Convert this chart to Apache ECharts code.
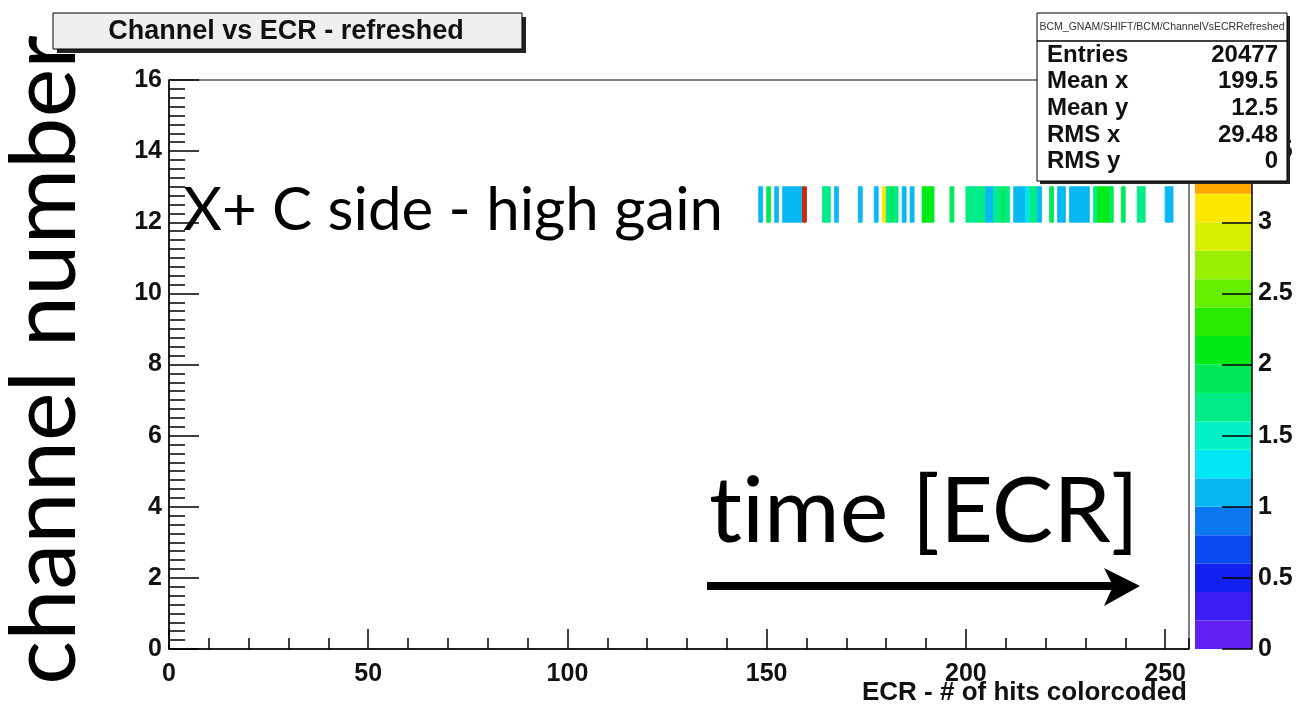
<!DOCTYPE html>
<html>
<head>
<meta charset="utf-8">
<script src="https://cdn.jsdelivr.net/npm/echarts@6/dist/echarts.min.js"></script>
<style>
  html, body { margin: 0; padding: 0; background: #fff; }
  #chart { width: 1298px; height: 705px; }
</style>
</head>
<body>
<div id="chart"></div>
<script>
// channel 12 = X+ C side, high gain. Only filled ECR bins are listed.
const channel = 12;
const ecrBins = [
  148, 150, 152, 154, 155, 156, 157, 158, 159,
  164, 165, 167, 173, 177, 179, 180, 181, 182,
  184, 186, 189, 190, 191, 196,
  200, 201, 202, 203, 204, 205, 206, 207, 208, 209, 210,
  212, 213, 214, 215, 216, 217, 218, 221, 223, 224,
  226, 227, 228, 229, 230, 232, 233, 234, 235, 236,
  239, 243, 244, 250, 251
];
// # of hits (colour coded)
const hitValues = [
  1.10, 1.90, 1.00, 1.05, 1.15, 1.15, 1.10, 1.15, 3.95,
  1.75, 1.70, 1.00, 1.10, 1.00, 3.10, 1.70, 1.85, 1.75,
  1.00, 1.05, 2.10, 2.15, 2.10, 1.90,
  1.70, 1.65, 1.75, 1.70, 1.75, 1.15, 1.10, 1.70, 1.75, 1.85, 1.70,
  1.10, 1.15, 1.10, 1.25, 1.65, 1.75, 1.00, 1.90, 1.10, 1.05,
  1.10, 1.15, 1.10, 1.15, 1.10, 1.70, 2.10, 2.15, 2.10, 1.85,
  1.90, 1.75, 1.70, 1.10, 1.05
];

// palette contours (20 levels) and colours
const zLevels = [0, 0.2, 0.4, 0.6, 0.8, 1.0, 1.2, 1.4, 1.6, 1.8, 2.0,
                 2.2, 2.4, 2.6, 2.8, 3.0, 3.2, 3.4, 3.6, 3.8, 4.0];
const paletteColors = [
  '#6420f4', '#3a1ef4', '#1420f0', '#0a48f0', '#0a78f0',
  '#08b8f2', '#00e6f4', '#00f0c8', '#00ec88', '#00ea58',
  '#00ea18', '#28ec00', '#66ee00', '#98f000', '#d8f000',
  '#fce800', '#ffa800', '#ff7400', '#ff3000', '#c8280c'
];

const statsLabels = ['Entries', 'Mean x', 'Mean y', 'RMS x', 'RMS y'];
const statsValues = ['20477', '199.5', '12.5', '29.48', '0'];

const rootFont = '"Liberation Sans", Arial, sans-serif';
const slideFont = 'Lato, "Open Sans", sans-serif';

const chart = echarts.init(document.getElementById('chart'));

//每个bin画成一个矩形
const renderBin = (params, api) => {
  const x0 = api.value(0), y0 = api.value(1);
  const p0 = api.coord([x0, y0 + 1]);
  const p1 = api.coord([x0 + 1, y0]);
  const color = api.visual('color');
  return {
    type: 'rect',
    shape: { x: p0[0], y: p0[1], width: p1[0] - p0[0], height: p1[1] - p0[1] },
    style: { fill: color, stroke: color, lineWidth: 0.8 }
  };
};
const renderLevel = (params, api) => {
  const p0 = api.coord([0, api.value(1)]);
  const p1 = api.coord([1, api.value(0)]);
  return {
    type: 'rect',
    shape: { x: p0[0], y: p0[1], width: p1[0] - p0[0], height: p1[1] - p0[1] },
    style: { fill: api.visual('color') }
  };
};

const labelStyle = { fontFamily: rootFont, fontWeight: 'bold', fontSize: 25, color: '#111' };
const blackLine = { color: '#000', width: 1.5 };

const statsRows = [];
statsLabels.forEach((lab, i) => {
  const y = 55 + i * 26.7;
  statsRows.push({ type: 'text', z: 101, x: 1047, y: y,
    style: { text: lab, font: 'bold 24px ' + rootFont, fill: '#111', textAlign: 'left', textVerticalAlign: 'middle' } });
  statsRows.push({ type: 'text', z: 101, x: 1278, y: y,
    style: { text: statsValues[i], font: 'bold 24px ' + rootFont, fill: '#111', textAlign: 'right', textVerticalAlign: 'middle' } });
});

const option = {
  animation: false,
  backgroundColor: '#fff',
  grid: [
    { left: 169, top: 80, width: 1020, height: 569, show: true, borderColor: '#000', borderWidth: 1,
      containLabel: false, outerBoundsMode: 'none' },
    { left: 1195, top: 80, width: 57, height: 569, containLabel: false, outerBoundsMode: 'none' }
  ],
  xAxis: [
    {
      type: 'value', gridIndex: 0, min: 0, max: 256, interval: 50, position: 'bottom', z: 5,
      axisLine: { show: true, onZero: false, lineStyle: blackLine },
      axisTick: { inside: true, length: 20, lineStyle: blackLine },
      axisLabel: Object.assign({ margin: 13, showMaxLabel: false }, labelStyle),
      splitLine: { show: false }
    },
    {
      // minor ticks every 10
      type: 'value', gridIndex: 0, min: 0, max: 256, interval: 10, position: 'bottom', z: 5,
      axisLine: { show: false, onZero: false },
      axisTick: { inside: true, length: 11, lineStyle: blackLine },
      axisLabel: { show: false },
      splitLine: { show: false }
    },
    { type: 'value', gridIndex: 1, min: 0, max: 1, show: false }
  ],
  yAxis: [
    {
      type: 'value', gridIndex: 0, min: 0, max: 16, interval: 2, z: 5,
      axisLine: { show: true, onZero: false, lineStyle: blackLine },
      axisTick: { inside: true, length: 30, lineStyle: blackLine },
      minorTick: { show: true, splitNumber: 8, length: 16, lineStyle: { color: '#000', width: 1.5 } },
      axisLabel: Object.assign({ margin: 7 }, labelStyle),
      splitLine: { show: false }
    },
    {
      type: 'value', gridIndex: 1, position: 'right', min: 0, max: 4, interval: 0.5, z: 5,
      axisLine: { show: true, onZero: false, lineStyle: blackLine },
      axisTick: { inside: true, length: 30, lineStyle: blackLine },
      axisLabel: Object.assign({ margin: 6 }, labelStyle),
      splitLine: { show: false }
    }
  ],
  visualMap: {
    type: 'piecewise', show: false, dimension: 2, seriesIndex: [0, 1],
    pieces: paletteColors.map((c, i) => ({ gte: zLevels[i], lt: zLevels[i + 1], color: c }))
  },
  series: [
    {
      type: 'custom', name: 'hits', xAxisIndex: 0, yAxisIndex: 0, clip: true, z: 1,
      encode: { x: 0, y: 1 },
      renderItem: renderBin,
      data: ecrBins.map((b, i) => [b, channel, hitValues[i]])
    },
    {
      type: 'custom', name: 'palette', xAxisIndex: 2, yAxisIndex: 1, z: 1,
      encode: { y: [0, 1] },
      renderItem: renderLevel,
      data: paletteColors.map((c, i) => [zLevels[i], zLevels[i + 1], (zLevels[i] + zLevels[i + 1]) / 2])
    }
  ],
  graphic: [
    // title box
    { type: 'rect', z: 100, shape: { x: 57, y: 17, width: 469, height: 36 }, style: { fill: '#222' } },
    { type: 'rect', z: 100, shape: { x: 53, y: 13, width: 469, height: 36 }, style: { fill: '#efefef', stroke: '#000', lineWidth: 1 } },
    { type: 'text', z: 101, x: 286, y: 32,
      style: { text: 'Channel vs ECR - refreshed', font: 'bold 27px ' + rootFont, fill: '#111', textAlign: 'center', textVerticalAlign: 'middle' } },
    // x axis title
    { type: 'text', z: 101, x: 1187, y: 693,
      style: { text: 'ECR - # of hits colorcoded', font: 'bold 26px ' + rootFont, fill: '#111', textAlign: 'right', textVerticalAlign: 'middle' } },
    // stats box
    { type: 'rect', z: 100, shape: { x: 1040, y: 16, width: 250, height: 168 }, style: { fill: '#222' } },
    { type: 'rect', z: 100, shape: { x: 1037, y: 13, width: 250, height: 168 }, style: { fill: '#fff', stroke: '#000', lineWidth: 1 } },
    { type: 'line', z: 101, shape: { x1: 1037, y1: 41, x2: 1287, y2: 41 }, style: { stroke: '#000', lineWidth: 1.5 } },
    { type: 'text', z: 101, x: 1162, y: 27,
      style: { text: 'BCM_GNAM/SHIFT/BCM/ChannelVsECRRefreshed', font: '10.5px ' + rootFont, fill: '#333', textAlign: 'center', textVerticalAlign: 'middle' } },
    ...statsRows,
    // slide annotations
    { type: 'text', z: 102, x: 45, y: 360, rotation: Math.PI / 2,
      style: { text: 'channel number', font: '92px ' + slideFont, fill: '#000', textAlign: 'center', textVerticalAlign: 'middle' } },
    { type: 'text', z: 102, x: 183, y: 211,
      style: { text: 'X+ C side - high gain', font: '60px ' + slideFont, fill: '#000', textAlign: 'left', textVerticalAlign: 'middle' } },
    { type: 'text', z: 102, x: 709, y: 512,
      style: { text: 't\u200Cime [ECR]', font: '92px ' + slideFont, fill: '#000', textAlign: 'left', textVerticalAlign: 'middle' } },
    { type: 'line', z: 102, shape: { x1: 707, y1: 586, x2: 1116, y2: 586 }, style: { stroke: '#000', lineWidth: 8 } },
    { type: 'polygon', z: 102, shape: { points: [[1104, 568], [1140, 586], [1104, 606], [1113, 586]] }, style: { fill: '#000' } }
  ]
};

chart.setOption(option);
window.addEventListener('resize', () => chart.resize());
</script>
</body>
</html>
